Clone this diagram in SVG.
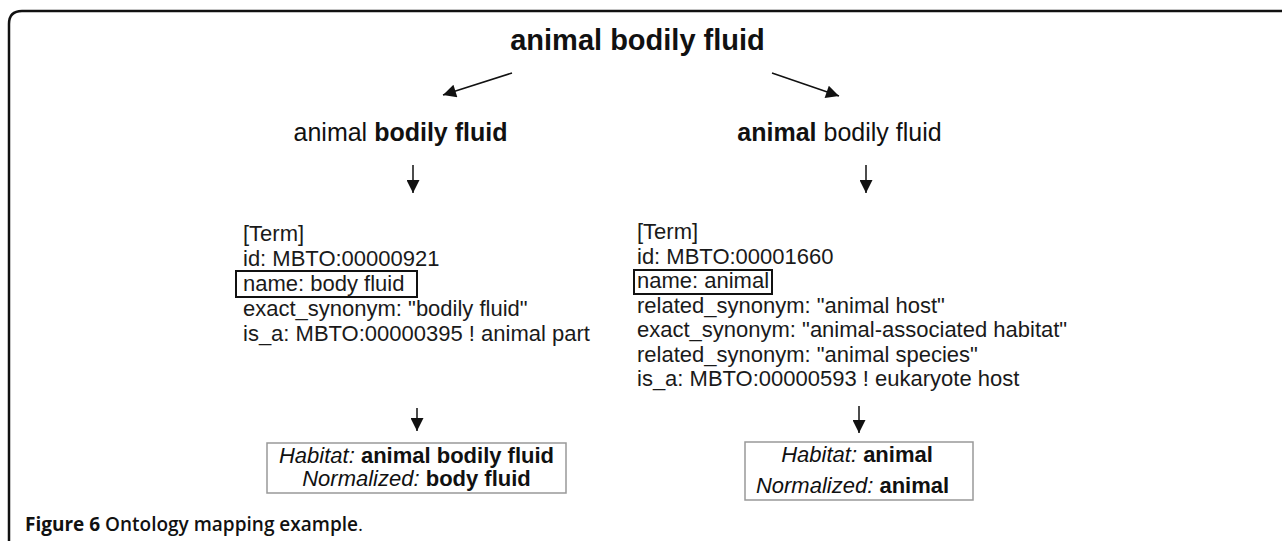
<svg xmlns="http://www.w3.org/2000/svg" width="1282" height="541" viewBox="0 0 1282 541">
<style>
.t{font-family:"Liberation Sans",Arial,sans-serif;fill:#111}
.b{font-weight:bold}
.term{font-family:"Liberation Sans",Arial,sans-serif;font-size:22px;fill:#1a1a1a}
.cap{font-family:"Open Sans","Noto Sans",sans-serif;font-size:19px;fill:#111}
.conn{stroke:#111;stroke-width:1.5;fill:none}
.box{fill:none;stroke:#111;stroke-width:2}
.res{fill:#fff;stroke:#999;stroke-width:1.5}
</style>
<defs>
<marker id="ad" viewBox="0 0 10 10" refX="10" refY="5" markerUnits="userSpaceOnUse" markerWidth="22" markerHeight="13" orient="auto"><path d="M0,0 L10,5 L0,10 z" fill="#111"/></marker>
<marker id="av" viewBox="0 0 10 10" refX="10" refY="5" markerUnits="userSpaceOnUse" markerWidth="18" markerHeight="13" orient="auto"><path d="M0,0 L10,5 L0,10 z" fill="#111"/></marker>
</defs>
<rect width="1282" height="541" fill="#fff"/>
<path d="M9,541 L9,24 Q9,11 22,11 L1282,11" fill="none" stroke="#111" stroke-width="2.5"/>

<g id="root">
<text class="t b" x="637.5" y="50" font-size="29" text-anchor="middle">animal bodily fluid</text>
</g>

<g id="left-split">
<text class="t" x="400.5" y="141" font-size="25" text-anchor="middle">animal <tspan class="b">bodily fluid</tspan></text>
</g>
<g id="right-split">
<text class="t" x="839.5" y="141" font-size="25" text-anchor="middle"><tspan class="b">animal</tspan> bodily fluid</text>
</g>

<g id="left-term">
<text class="term" x="243" y="241">[Term]</text>
<text class="term" x="243" y="266">id: MBTO:00000921</text>
<rect class="box" x="236" y="271" width="181" height="26"/>
<text class="term" x="243" y="291">name: body fluid</text>
<text class="term" x="243" y="316">exact_synonym: "bodily fluid"</text>
<text class="term" x="243" y="341">is_a: MBTO:00000395 ! animal part</text>
</g>

<g id="right-term">
<text class="term" x="637" y="239">[Term]</text>
<text class="term" x="637" y="263.5">id: MBTO:00001660</text>
<rect class="box" x="634" y="270" width="138" height="24"/>
<text class="term" x="637" y="288">name: animal</text>
<text class="term" x="637" y="312.5">related_synonym: "animal host"</text>
<text class="term" x="637" y="337">exact_synonym: "animal-associated habitat"</text>
<text class="term" x="637" y="361.5">related_synonym: "animal species"</text>
<text class="term" x="637" y="386">is_a: MBTO:00000593 ! eukaryote host</text>
</g>

<g id="left-result">
<rect class="res" x="267" y="443" width="299" height="50"/>
<text class="t" x="416.5" y="463" font-size="22" text-anchor="middle"><tspan font-style="italic">Habitat:</tspan> <tspan class="b">animal bodily fluid</tspan></text>
<text class="t" x="416.5" y="486" font-size="22" text-anchor="middle"><tspan font-style="italic">Normalized:</tspan> <tspan class="b">body fluid</tspan></text>
</g>

<g id="right-result">
<rect class="res" x="745" y="442" width="228" height="58"/>
<text class="t" x="857" y="462" font-size="22" text-anchor="middle"><tspan font-style="italic">Habitat:</tspan> <tspan class="b">animal</tspan></text>
<text class="t" x="852.5" y="493" font-size="22" text-anchor="middle"><tspan font-style="italic">Normalized:</tspan> <tspan class="b">animal</tspan></text>
</g>

<g id="connectors">
<line class="conn" x1="512" y1="73" x2="443" y2="95" marker-end="url(#ad)"/>
<line class="conn" x1="772" y1="73" x2="839" y2="96" marker-end="url(#ad)"/>
<line class="conn" x1="413" y1="165" x2="413" y2="193" marker-end="url(#av)"/>
<line class="conn" x1="866" y1="165" x2="866" y2="193" marker-end="url(#av)"/>
<line class="conn" x1="417" y1="408" x2="417" y2="431" marker-end="url(#av)"/>
<line class="conn" x1="859" y1="406" x2="859" y2="433" marker-end="url(#av)"/>
</g>

<g id="caption">
<text class="cap" x="25" y="531"><tspan font-weight="bold">Figure 6</tspan><tspan font-weight="600"> Ontology mapping example</tspan>.</text>
</g>
</svg>
